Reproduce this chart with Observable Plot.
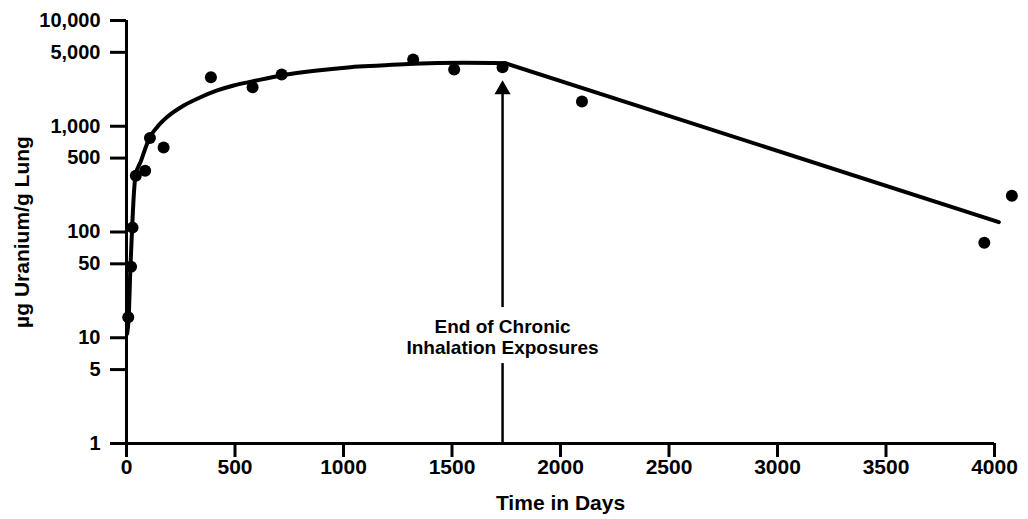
<!DOCTYPE html>
<html>
<head>
<meta charset="utf-8">
<script src="https://cdn.jsdelivr.net/npm/d3@7"></script>
<script src="https://cdn.jsdelivr.net/npm/@observablehq/plot@0.6"></script>
<style>
  html, body { margin: 0; padding: 0; background: #fff; }
  svg text { font-weight: bold; }
</style>
</head>
<body>
<div id="chart"></div>
<script>
// Observed data points (days, µg U / g lung)
const obsDays   = [8, 21, 28, 43, 86, 108, 171, 389, 581, 715, 1321, 1510, 1733, 2099, 3953, 4080];
const obsValues = [15.6, 47, 110, 340, 380, 775, 630, 2900, 2340, 3080, 4270, 3440, 3610, 1710, 79, 220];

// Fitted build-up curve
const fitDays   = [3, 10, 18, 26, 34, 41, 65, 106, 141, 187, 264, 341, 418, 494, 579, 713, 879, 1032, 1171, 1319, 1554, 1745];
const fitValues = [10.9, 15.5, 46, 110, 230, 340, 460, 778, 980, 1220, 1570, 1880, 2180, 2430, 2650, 3020, 3370, 3620, 3750, 3900, 3990, 3950];

// Post-exposure clearance line
const clearDays   = [1745, 4020];
const clearValues = [3950, 124];

// Annotation: end of chronic exposure
const endDay = [1733];
const arrowShaftLow  = [1, 5.7];
const arrowShaftHigh = [19.3, 2700];
const arrowTip = [2700];
const annotationY = [10.3];
const annotationText = ["End of Chronic\nInhalation Exposures"];

// Axes
const xTicks = [0, 500, 1000, 1500, 2000, 2500, 3000, 3500, 4000];
const yTicks = [1, 5, 10, 50, 100, 500, 1000, 5000, 10000];
const yTickLabels = ["1", "5", "10", "50", "100", "500", "1,000", "5,000", "10,000"];
const xLabel = "Time in Days";
const yLabel = "µg Uranium/g Lung";

const obs = obsDays.map((d, i) => ({x: d, y: obsValues[i]}));
const fit = fitDays.map((d, i) => ({x: d, y: fitValues[i]}));
const clear = clearDays.map((d, i) => ({x: d, y: clearValues[i]}));
const yTickData = yTicks.map((v, i) => ({y: v, label: yTickLabels[i]}));

const font = "'Liberation Sans', Arial, Helvetica, sans-serif";

const chart = Plot.plot({
  width: 1028,
  height: 519,
  marginLeft: 126,
  marginRight: 34,
  marginTop: 20,
  marginBottom: 76,
  style: {fontFamily: font, fontWeight: "bold", color: "black", background: "white", overflow: "visible"},
  x: {domain: [0, 4000]},
  y: {type: "log", domain: [1, 10000]},
  marks: [
    Plot.axisX(xTicks, {tickSize: 14, tickPadding: 2, strokeWidth: 3, fontSize: 21, label: null, tickFormat: d => String(d)}),
    Plot.axisY(yTicks, {tickSize: 16, strokeWidth: 3, text: null, label: null}),
    Plot.text(yTickData, {y: "y", text: "label", frameAnchor: "left", textAnchor: "end", lineAnchor: "middle", dx: -26, fontSize: 20, fill: "black"}),
    Plot.ruleX([0], {stroke: "black", strokeWidth: 3}),
    Plot.ruleY([1], {stroke: "black", strokeWidth: 3}),
    Plot.line(fit, {x: "x", y: "y", curve: "monotone-x", stroke: "black", strokeWidth: 4}),
    Plot.line(clear, {x: "x", y: "y", stroke: "black", strokeWidth: 4}),
    Plot.dot(obs, {x: "x", y: "y", r: 6, fill: "black", stroke: null}),
    Plot.ruleX(endDay, {y1: arrowShaftLow[0], y2: arrowShaftLow[1], stroke: "black", strokeWidth: 2.5}),
    Plot.ruleX(endDay, {y1: arrowShaftHigh[0], y2: arrowShaftHigh[1] * 0.85, stroke: "black", strokeWidth: 2.5}),
    Plot.dot(endDay, {x: d => d, y: () => arrowTip[0], symbol: "triangle", r: 6, fill: "black", stroke: null, dy: 9}),
    Plot.text(annotationText, {x: () => endDay[0], y: () => annotationY[0], text: d => d, fontSize: 19, lineHeight: 1.13, fill: "black"}),
    Plot.text([xLabel], {frameAnchor: "bottom", lineAnchor: "middle", dy: 60, text: d => d, fontSize: 21, fill: "black"}),
    Plot.text([yLabel], {frameAnchor: "left", textAnchor: "middle", lineAnchor: "middle", dx: -104, rotate: -90, text: d => d, fontSize: 21, fill: "black"})
  ]
});
document.getElementById("chart").appendChild(chart);
</script>
</body>
</html>
